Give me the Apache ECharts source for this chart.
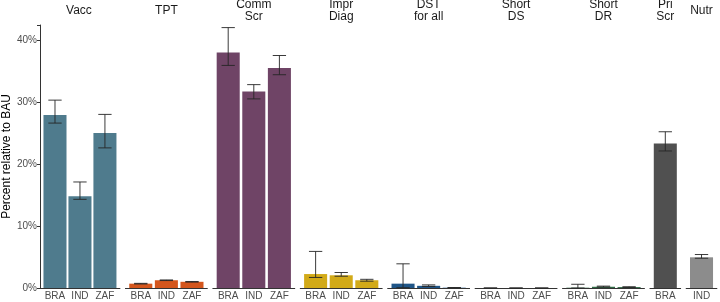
<!DOCTYPE html>
<html>
<head>
<meta charset="utf-8">
<script src="https://cdn.jsdelivr.net/npm/echarts@6/dist/echarts.min.js"></script>
<style>
  html, body { margin: 0; padding: 0; background: #fff; }
  #chart { width: 720px; height: 302px; }
</style>
</head>
<body>
<div id="chart"></div>
<script>
// facets (strip labels) and the countries inside each one
const facetNames = ['Vacc', 'TPT', 'Comm\nScr', 'Impr\nDiag', 'DST\nfor all', 'Short\nDS', 'Short\nDR', 'Pri\nScr', 'Nutr'];
const facetCountries = [
  ['BRA', 'IND', 'ZAF'], ['BRA', 'IND', 'ZAF'], ['BRA', 'IND', 'ZAF'],
  ['BRA', 'IND', 'ZAF'], ['BRA', 'IND', 'ZAF'], ['BRA', 'IND', 'ZAF'],
  ['BRA', 'IND', 'ZAF'], ['BRA'], ['IND']
];
// percent relative to BAU, plus error bar bounds
const barValues = [
  [27.9, 14.8, 25.0], [0.7, 1.25, 1.0], [38.0, 31.7, 35.5],
  [2.25, 2.05, 1.25], [0.7, 0.35, 0.05], [0, 0, 0],
  [0.05, 0.2, 0.15], [23.3], [4.95]
];
const errLow = [
  [26.6, 14.3, 22.6], [0.65, 1.2, 0.95], [35.9, 30.5, 34.4],
  [1.7, 1.9, 1.1], [0.05, 0.25, 0.02], [0, 0, 0],
  [0.0, 0.15, 0.1], [22.1], [4.8]
];
const errHigh = [
  [30.3, 17.1, 28.0], [0.75, 1.3, 1.05], [42.0, 32.8, 37.5],
  [5.9, 2.5, 1.4], [3.9, 0.5, 0.08], [0, 0, 0],
  [0.6, 0.3, 0.2], [25.2], [5.4]
];
const yTicks = [0, 10, 20, 30, 40];
const facetColors = ['#4f7b8d', '#d4561d', '#6f4466', '#d2aa18', '#1f5587', '#3a6b4a', '#2f6a45', '#505050', '#8c8c8c'];

const chart = echarts.init(document.getElementById('chart'));

const unit = 25.6, gap = 5.5, x0 = 38, gridTop = 25, gridBottom = 14;
const yMax = 263 / 6.2;

let grids = [], xAxes = [], yAxes = [], series = [], titles = [];
let x = x0;
facetNames.forEach((name, i) => {
  const cats = facetCountries[i];
  const n = cats.length;
  const w = (n + 0.2) * unit;
  grids.push({ left: x, width: w, top: gridTop, bottom: gridBottom });
  xAxes.push({
    type: 'value', gridIndex: i, min: 0.4, max: n + 0.6,
    axisLine: { show: true, lineStyle: { color: '#333', width: 1 } },
    axisTick: { show: false },
    splitLine: { show: false },
    axisLabel: {
      customValues: cats.map((c, k) => k + 1),
      formatter: v => cats[Math.round(v) - 1] || '',
      color: '#4d4d4d', fontSize: 10, margin: 3,
      fontFamily: 'Liberation Sans'
    }
  });
  const first = i === 0;
  yAxes.push({
    type: 'value', gridIndex: i, min: 0, max: yMax, interval: 10,
    show: first,
    name: first ? 'Percent relative to BAU' : '',
    nameLocation: 'middle', nameGap: 27, nameRotate: 90,
    nameTextStyle: { color: '#000', fontSize: 12, fontFamily: 'Liberation Sans' },
    axisLine: { show: first, lineStyle: { color: '#333', width: 1 } },
    axisTick: { show: first, length: 3, lineStyle: { color: '#333' } },
    splitLine: { show: false },
    axisLabel: {
      show: first, color: '#4d4d4d', fontSize: 10, margin: 3,
      fontFamily: 'Liberation Sans',
      formatter: v => yTicks.includes(v) ? v + '%' : ''
    }
  });
  series.push({
    type: 'bar', xAxisIndex: i, yAxisIndex: i, barWidth: 0.9 * unit,
    itemStyle: { color: facetColors[i] },
    data: barValues[i].map((v, k) => [k + 1, v]),
    silent: true
  });
  series.push({
    type: 'custom', xAxisIndex: i, yAxisIndex: i,
    data: barValues[i].map((v, k) => [k + 1, errLow[i][k], errHigh[i][k]]),
    renderItem: (params, api) => {
      const cx = api.value(0);
      const lo = api.coord([cx, api.value(1)]);
      const hi = api.coord([cx, api.value(2)]);
      const hw = 0.26 * unit;
      const st = { stroke: '#262626', lineWidth: 1, opacity: 0.9 };
      return {
        type: 'group',
        children: [
          { type: 'line', shape: { x1: lo[0], y1: lo[1], x2: hi[0], y2: hi[1] }, style: st },
          { type: 'line', shape: { x1: lo[0] - hw, y1: lo[1], x2: lo[0] + hw, y2: lo[1] }, style: st },
          { type: 'line', shape: { x1: hi[0] - hw, y1: hi[1], x2: hi[0] + hw, y2: hi[1] }, style: st }
        ]
      };
    },
    silent: true, z: 3
  });
  const lines = name.split('\n').length;
  titles.push({
    text: name, left: x + w / 2, top: 11 - lines * 6, textAlign: 'center', padding: 0,
    textStyle: { fontSize: 12, fontWeight: 'normal', color: '#1a1a1a', lineHeight: 12, fontFamily: 'Liberation Sans' }
  });
  x += w + gap;
});

chart.setOption({
  animation: false,
  title: titles,
  grid: grids,
  xAxis: xAxes,
  yAxis: yAxes,
  series: series
});
</script>
</body>
</html>
